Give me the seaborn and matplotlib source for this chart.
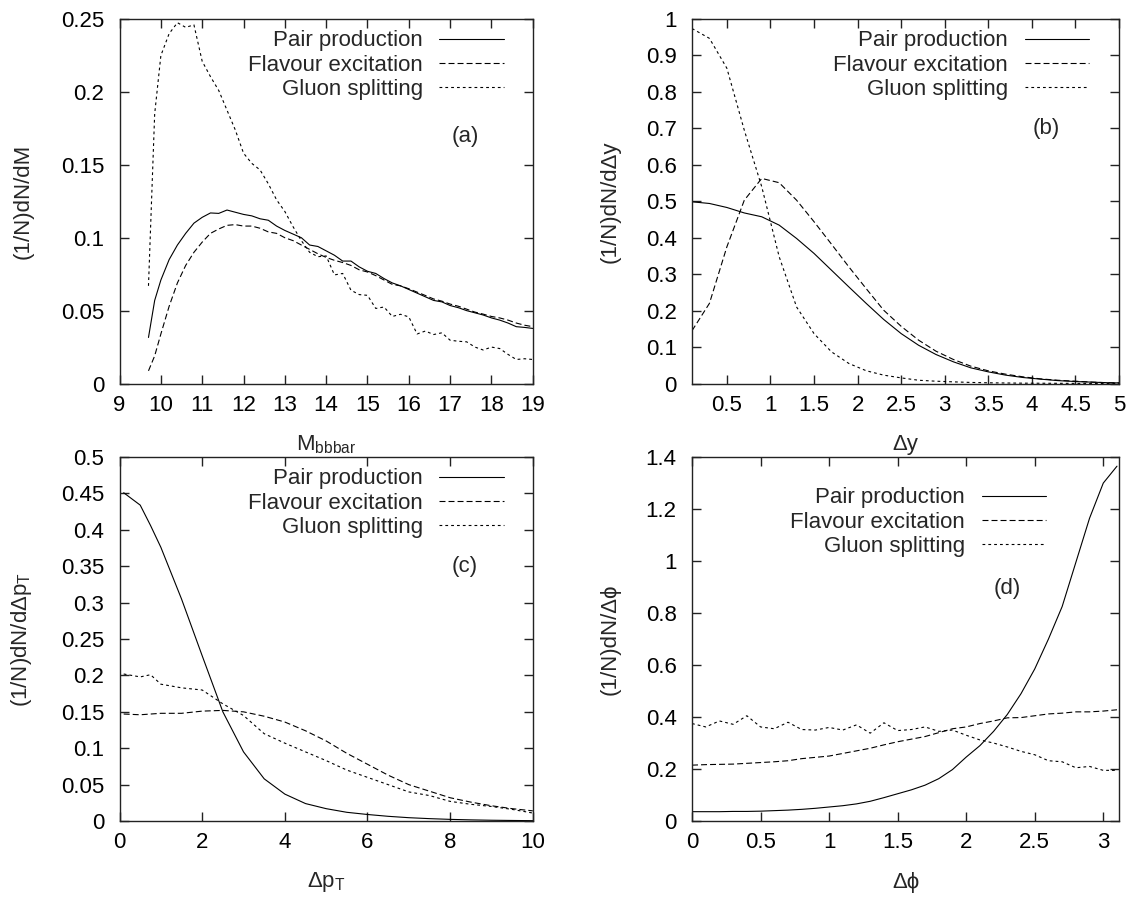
import matplotlib
matplotlib.use("Agg")
import matplotlib.pyplot as plt
import seaborn as sns
from matplotlib.ticker import FuncFormatter, MultipleLocator

# ---------------- data ----------------
series_names = ["Pair production", "Flavour excitation", "Gluon splitting"]

# (a) invariant mass
mass_x = [9.7, 9.85, 10.0, 10.2, 10.4, 10.6, 10.8, 11.0, 11.2, 11.4, 11.6, 11.8,
          12.0, 12.2, 12.4, 12.6, 12.8, 13.0, 13.2, 13.4, 13.6, 13.8, 14.0, 14.2,
          14.4, 14.6, 14.8, 15.0, 15.2, 15.4, 15.6, 15.8, 16.0, 16.2, 16.4, 16.6,
          16.8, 17.0, 17.2, 17.4, 17.6, 17.8, 18.0, 18.2, 18.4, 18.6, 18.8, 19.0]
mass_pair = [0.0316, 0.057, 0.071, 0.085, 0.095, 0.103, 0.110, 0.114, 0.117, 0.1167,
             0.119, 0.1175, 0.116, 0.115, 0.113, 0.112, 0.108, 0.105, 0.1025, 0.100,
             0.095, 0.094, 0.091, 0.088, 0.084, 0.084, 0.080, 0.077, 0.0755, 0.072,
             0.069, 0.067, 0.0645, 0.062, 0.0595, 0.057, 0.056, 0.0535, 0.052, 0.050,
             0.0485, 0.047, 0.045, 0.0435, 0.0415, 0.039, 0.0385, 0.0378]
mass_flav = [0.0087, 0.019, 0.034, 0.053, 0.069, 0.081, 0.090, 0.097, 0.103, 0.106,
             0.1085, 0.109, 0.108, 0.108, 0.1065, 0.104, 0.103, 0.100, 0.098, 0.095,
             0.092, 0.089, 0.0865, 0.0845, 0.083, 0.081, 0.078, 0.0765, 0.074, 0.071,
             0.068, 0.067, 0.065, 0.0627, 0.0604, 0.058, 0.0565, 0.0545, 0.053, 0.051,
             0.049, 0.0476, 0.046, 0.045, 0.0435, 0.0415, 0.040, 0.039]
mass_glu = [0.067, 0.185, 0.225, 0.240, 0.2475, 0.2443, 0.246, 0.221, 0.2105, 0.201,
            0.1875, 0.174, 0.158, 0.151, 0.1465, 0.137, 0.126, 0.118, 0.1075, 0.098,
            0.090, 0.087, 0.0875, 0.0745, 0.0755, 0.064, 0.061, 0.0605, 0.0515, 0.0525,
            0.046, 0.0475, 0.0457, 0.034, 0.036, 0.0336, 0.0348, 0.0297, 0.029, 0.0286,
            0.025, 0.023, 0.025, 0.024, 0.020, 0.0165, 0.017, 0.0165]

# (b) rapidity difference
dy_x = [0.1, 0.3, 0.5, 0.7, 0.9, 1.1, 1.3, 1.5, 1.7, 1.9, 2.1, 2.3, 2.5, 2.7, 2.9,
        3.1, 3.3, 3.5, 3.7, 3.9, 4.1, 4.3, 4.5, 4.7, 4.9, 5.0]
dy_pair = [0.4986, 0.494, 0.483, 0.468, 0.4575, 0.4346, 0.398, 0.357, 0.311, 0.265,
           0.2196, 0.1757, 0.137, 0.105, 0.0796, 0.0595, 0.043, 0.032, 0.023, 0.0165,
           0.012, 0.008, 0.0055, 0.0037, 0.002, 0.0018]
dy_flav = [0.145, 0.22, 0.375, 0.503, 0.5627, 0.551, 0.503, 0.444, 0.3824, 0.32,
           0.26, 0.201, 0.157, 0.119, 0.0887, 0.0659, 0.0476, 0.0348, 0.0256, 0.0183,
           0.0128, 0.009, 0.0064, 0.0037, 0.002, 0.0018]
dy_glu = [0.974, 0.947, 0.865, 0.695, 0.54, 0.348, 0.21, 0.137, 0.087, 0.055,
          0.035, 0.023, 0.0155, 0.009, 0.0064, 0.0046, 0.003, 0.002, 0.0015, 0.001,
          0.0008, 0.0006, 0.0004, 0.0003, 0.0002, 0.0002]

# (c) transverse momentum difference
dpt_x = [0.1, 0.5, 0.75, 1.0, 1.5, 2.0, 2.5, 3.0, 3.5, 4.0, 4.5, 5.0, 5.5, 6.0,
         6.5, 7.0, 7.5, 8.0, 8.5, 9.0, 9.5, 10.0]
dpt_pair = [0.451, 0.434, 0.406, 0.376, 0.305, 0.227, 0.150, 0.095, 0.058, 0.037,
            0.024, 0.017, 0.012, 0.009, 0.0065, 0.0046, 0.0033, 0.0023, 0.0016,
            0.0011, 0.0008, 0.0005]
dpt_flav = [0.147, 0.146, 0.147, 0.148, 0.148, 0.151, 0.152, 0.150, 0.144, 0.136,
            0.124, 0.110, 0.093, 0.078, 0.063, 0.050, 0.041, 0.032, 0.026, 0.021,
            0.017, 0.014]
dpt_glu = [0.202, 0.198, 0.201, 0.188, 0.183, 0.180, 0.161, 0.145, 0.120, 0.107,
           0.095, 0.083, 0.070, 0.060, 0.050, 0.040, 0.035, 0.027, 0.023, 0.020,
           0.016, 0.011]

# (d) azimuthal difference
dphi_x = [0.0, 0.1, 0.2, 0.3, 0.4, 0.5, 0.6, 0.7, 0.8, 0.9, 1.0, 1.1, 1.2, 1.3,
          1.4, 1.5, 1.6, 1.7, 1.8, 1.9, 2.0, 2.1, 2.2, 2.3, 2.4, 2.5, 2.6, 2.7,
          2.8, 2.9, 3.0, 3.1]
dphi_pair = [0.036, 0.036, 0.036, 0.037, 0.037, 0.038, 0.040, 0.042, 0.045, 0.049,
             0.054, 0.059, 0.066, 0.076, 0.090, 0.105, 0.120, 0.138, 0.163, 0.198,
             0.246, 0.290, 0.345, 0.410, 0.490, 0.585, 0.700, 0.825, 0.995, 1.165,
             1.300, 1.365]
dphi_flav = [0.215, 0.217, 0.218, 0.219, 0.222, 0.225, 0.228, 0.232, 0.240, 0.245,
             0.250, 0.260, 0.270, 0.280, 0.293, 0.305, 0.315, 0.325, 0.340, 0.355,
             0.362, 0.375, 0.385, 0.397, 0.398, 0.405, 0.412, 0.415, 0.420, 0.420,
             0.423, 0.428]
dphi_glu = [0.375, 0.362, 0.385, 0.372, 0.405, 0.362, 0.355, 0.380, 0.352, 0.350,
            0.360, 0.350, 0.370, 0.338, 0.378, 0.348, 0.352, 0.362, 0.345, 0.350,
            0.330, 0.312, 0.300, 0.285, 0.268, 0.255, 0.232, 0.228, 0.205, 0.210,
            0.195, 0.195]

# ---------------- style ----------------
sns.set_theme(style="ticks")
plt.rcParams['font.family'] = ['Liberation Sans', 'DejaVu Sans']
plt.rcParams['mathtext.fontset'] = 'custom'
plt.rcParams['mathtext.rm'] = 'Liberation Sans'
plt.rcParams['mathtext.it'] = 'Liberation Sans'
plt.rcParams['lines.scale_dashes'] = False

FS = 16
INK = '#222222'
line_styles = ['-', (0, (4.3, 2.2)), (0, (2.0, 2.2))]

fig = plt.figure(figsize=(11.3, 8.98), dpi=100)

panels = [
    dict(rect=[0.1058, 0.5729, 0.3657, 0.4059], x=mass_x, ys=[mass_pair, mass_flav, mass_glu],
         xlim=(9, 19), ylim=(0, 0.25), xstep=1, ystep=0.05,
         xlabel=r'M$_{\mathrm{bbbar}}$', ylabel='(1/N)dN/dM', tag='(a)', tagpos=(0.836, 0.677),
         leg=(0.930, 0.969), ylabx=-0.233),
    dict(rect=[0.6124, 0.5729, 0.3779, 0.4059], x=dy_x, ys=[dy_pair, dy_flav, dy_glu],
         xlim=(0.1, 5), ylim=(0, 1), xstep=0.5, ystep=0.1,
         xlabel='Δy', ylabel='(1/N)dN/dΔy', tag='(b)', tagpos=(0.829, 0.70),
         leg=(0.930, 0.969), ylabx=-0.192),
    dict(rect=[0.1058, 0.0857, 0.3657, 0.4053], x=dpt_x, ys=[dpt_pair, dpt_flav, dpt_glu],
         xlim=(0, 10), ylim=(0, 0.5), xstep=2, ystep=0.05,
         xlabel=r'Δp$_{\mathrm{T}}$', ylabel=r'(1/N)dN/dΔp$_{\mathrm{T}}$', tag='(c)',
         tagpos=(0.836, 0.70), leg=(0.930, 0.969), ylabx=-0.237),
    dict(rect=[0.6124, 0.0857, 0.3779, 0.4053], x=dphi_x, ys=[dphi_pair, dphi_flav, dphi_glu],
         xlim=(0, 3.115), ylim=(0, 1.4), xstep=0.5, ystep=0.2,
         xlabel='Δϕ', ylabel='(1/N)dN/Δϕ', tag='(d)', tagpos=(0.739, 0.639),
         leg=(0.829, 0.917), ylabx=-0.192),
]

fmt = FuncFormatter(lambda v, p: f"{v:g}")

for p in panels:
    ax = fig.add_axes(p['rect'])
    for name, y, ls in zip(series_names, p['ys'], line_styles):
        sns.lineplot(x=p['x'], y=y, ax=ax, color='black', linewidth=0.8,
                     linestyle=ls, label=name, estimator=None, sort=False)
    ax.set_xlim(*p['xlim'])
    ax.set_ylim(*p['ylim'])
    ax.xaxis.set_major_locator(MultipleLocator(p['xstep']))
    ax.yaxis.set_major_locator(MultipleLocator(p['ystep']))
    ax.xaxis.set_major_formatter(fmt)
    ax.yaxis.set_major_formatter(fmt)
    ax.tick_params(direction='in', length=6.5, width=1, top=True, right=True,
                   labelsize=FS, color=INK, labelcolor='black')
    ax.tick_params(axis='x', pad=8)
    ax.tick_params(axis='y', pad=11)
    for s in ax.spines.values():
        s.set_visible(True)
        s.set_linewidth(1)
        s.set_color(INK)
    ax.set_xlabel(p['xlabel'], fontsize=FS)
    ax.set_ylabel(p['ylabel'], fontsize=FS)
    ax.xaxis.set_label_coords(0.5, -0.168)
    ax.xaxis.label.set_va('center')
    ax.yaxis.set_label_coords(p['ylabx'], 0.5)
    ax.yaxis.label.set_va('center')
    ax.text(p['tagpos'][0], p['tagpos'][1], p['tag'], transform=ax.transAxes,
            ha='center', va='center', fontsize=FS)
    ax.legend(loc='upper right', bbox_to_anchor=p['leg'], frameon=False,
              markerfirst=False, fontsize=FS, handlelength=2.9, handletextpad=0.75,
              labelspacing=0.15, borderaxespad=0, borderpad=0)
    ax.set_facecolor('white')

fig.savefig('out.png', dpi=100, facecolor='white')
